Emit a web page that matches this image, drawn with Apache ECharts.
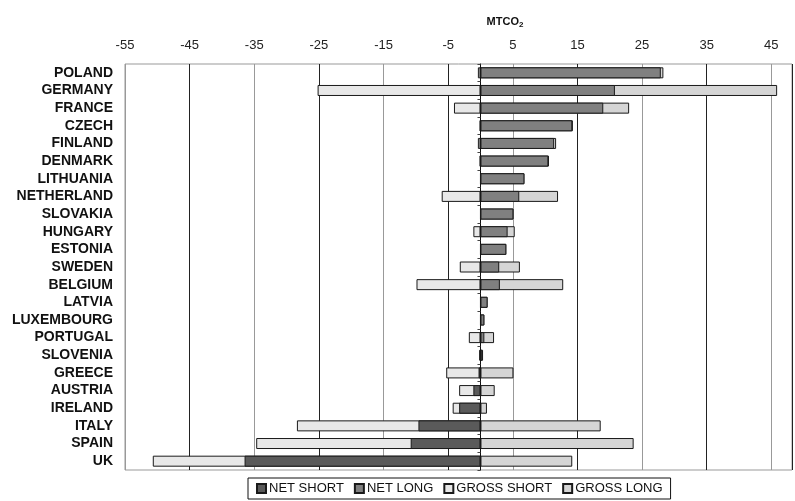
<!DOCTYPE html>
<html>
<head>
<meta charset="utf-8">
<script src="https://cdn.jsdelivr.net/npm/echarts@6/dist/echarts.min.js"></script>
<style>html,body{margin:0;padding:0;background:#fff}#c{width:795px;height:501px}</style>
</head>
<body>
<div id="c"></div>
<script>
var categories = ['POLAND','GERMANY','FRANCE','CZECH','FINLAND','DENMARK','LITHUANIA','NETHERLAND','SLOVAKIA','HUNGARY','ESTONIA','SWEDEN','BELGIUM','LATVIA','LUXEMBOURG','PORTUGAL','SLOVENIA','GREECE','AUSTRIA','IRELAND','ITALY','SPAIN','UK'];
var grossShort = [-0.4,-25.2,-4.1,-0.1,-0.4,-0.1,0,-6.0,0,-1.1,0,-3.2,-9.9,0,0,-1.8,-0.2,-5.3,-3.3,-4.3,-28.4,-34.7,-50.7];
var grossLong  = [28.3,45.9,23.0,14.3,11.7,10.6,6.8,12.0,5.1,5.3,4.0,6.1,12.8,1.1,0.6,2.1,0.4,5.1,2.2,1.0,18.6,23.7,14.2];
var netLong    = [27.9,20.8,19.0,14.2,11.4,10.5,6.8,6.0,5.1,4.2,4.0,2.9,3.0,1.1,0.6,0.6,0.3,null,null,null,null,null,null];
var netShort   = [null,null,null,null,null,null,null,null,null,null,null,null,null,null,null,null,null,-0.3,-1.1,-3.3,-9.6,-10.8,-36.5];
var xTicks = [-55,-45,-35,-25,-15,-5,5,15,25,35,45];

var chart = echarts.init(document.getElementById('c'), null, {renderer:'canvas'});
var bw = 11;
function bar(name, data, color){
  return {name:name, type:'bar', data:data, barWidth:bw, barGap:'-100%', yAxisIndex:0,
    itemStyle:{color:color, borderColor:'#1a1a1a', borderWidth:1}};
}
chart.setOption({
  animation:false,
  title:{text:'{a|MTCO}{b|2}', left:500, top:10, textAlign:'center',
    textStyle:{rich:{a:{fontFamily:'Liberation Sans, Arial',fontWeight:'bold',fontSize:11,color:'#111'},
                     b:{fontFamily:'Liberation Sans, Arial',fontWeight:'bold',fontSize:8,color:'#111',padding:[6,0,0,0]}}}},
  grid:{left:125, right:0, top:64, bottom:31, show:true, borderColor:'#999', borderWidth:1},
  legend:{data:['NET SHORT','NET LONG','GROSS SHORT','GROSS LONG'], bottom:2, left:248,
    itemWidth:9, itemHeight:9, itemGap:10, icon:'rect', padding:[4,8,4,8],
    borderColor:'#111', borderWidth:1,
    textStyle:{fontFamily:'Liberation Sans, Arial', fontSize:13, color:'#111', padding:[0,0,0,-2]}},
  xAxis:{type:'value', position:'top', min:-55, max:48.2, interval:10,
    axisLine:{show:false}, axisTick:{show:false},
    axisLabel:{margin:12, fontFamily:'Liberation Sans Narrow, Liberation Sans, Arial', fontSize:13, color:'#222',
      formatter:function(v){ return xTicks.indexOf(Math.round(v*10)/10) >= 0 ? String(v) : ''; }},
    splitLine:{show:true, lineStyle:{color:['#999','#222'], width:1}}},
  yAxis:[
    {type:'category', data:categories, inverse:true, position:'left',
      axisLine:{show:true, onZero:true, lineStyle:{color:'#111', width:1}},
      axisTick:{show:true, length:3, lineStyle:{color:'#444'}},
      axisLabel:{show:false}, splitLine:{show:false}},
    {type:'category', data:categories, inverse:true, position:'left',
      axisLine:{show:false, onZero:false}, axisTick:{show:false},
      axisLabel:{interval:0, margin:12, fontFamily:'Liberation Sans, Arial', fontWeight:'bold', fontSize:14, color:'#111'}}
  ],
  series:[
    bar('GROSS SHORT', grossShort, '#e8e8e8'),
    bar('GROSS LONG', grossLong, '#d5d5d5'),
    bar('NET SHORT', netShort, '#5a5a5a'),
    bar('NET LONG', netLong, '#808080')
  ]
});
</script>
</body>
</html>
